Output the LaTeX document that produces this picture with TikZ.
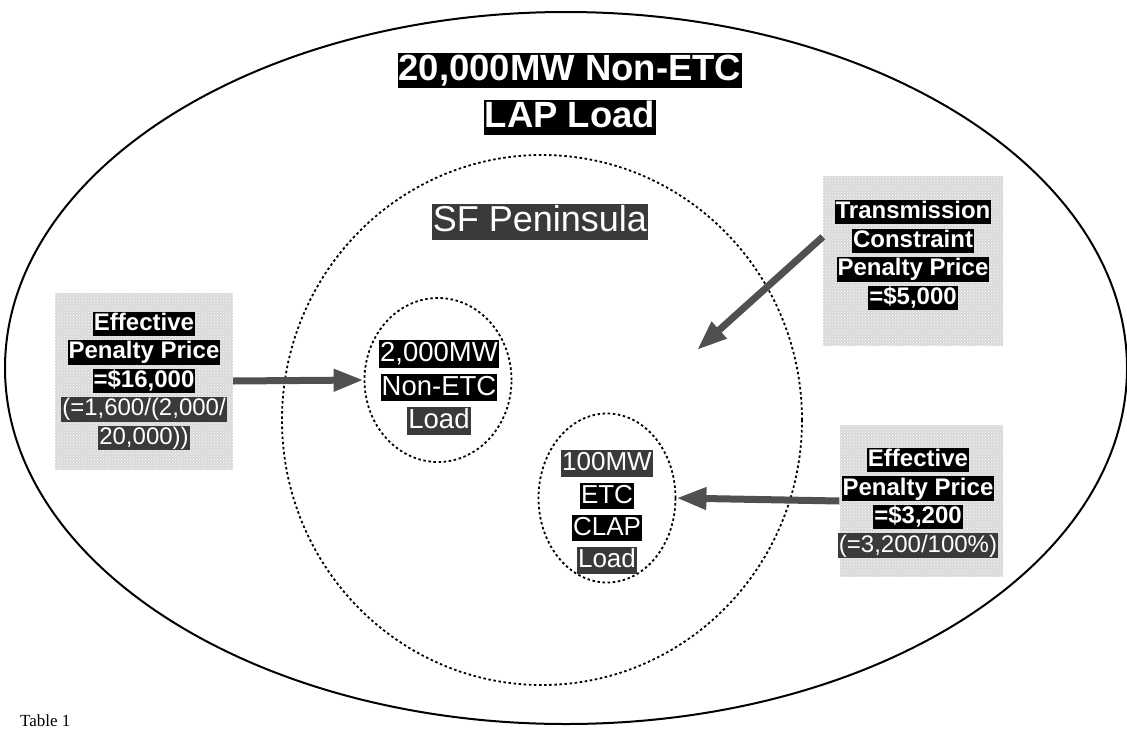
\documentclass[tikz,border=0pt]{standalone}
\usepackage{fontspec}
\setmainfont{Liberation Sans}
\newfontfamily\capserif{Liberation Serif}
\usetikzlibrary{arrows.meta,patterns,shapes.geometric}
\definecolor{hlgray}{HTML}{3A3A3A}
\definecolor{arrgray}{HTML}{505050}
\definecolor{boxgray}{HTML}{D8D8D8}
\newcommand{\hlb}[1]{{\setlength{\fboxsep}{1pt}\colorbox{black}{\textcolor{white}{\rule[-0.19em]{0pt}{0.93em}#1}}}}
\newcommand{\hlg}[1]{{\setlength{\fboxsep}{1pt}\colorbox{hlgray}{\textcolor{white}{\rule[-0.19em]{0pt}{0.93em}#1}}}}
\tikzset{
  pricebox/.style={draw=none, fill=boxgray, inner sep=0pt},
  stipple/.style={draw=none, pattern=crosshatch dots, pattern color=white, inner sep=0pt},
  dotring/.style={draw, ellipse, line width=1.8pt, dash pattern=on 2.5pt off 2.6pt, inner sep=0pt},
  fatarrow/.style={draw=arrgray, line width=7pt, -{Triangle[length=30pt,width=21pt]}},
  boxtext/.style={align=center, inner sep=0pt, font=\fontsize{24}{28.5}\selectfont},
  ringtext/.style={align=center, inner sep=0pt}
}
\begin{document}
\begin{tikzpicture}[x=1pt,y=-1pt]
\useasboundingbox (0,0) rectangle (1127,731);
% outer ellipse
\node[draw, ellipse, line width=2pt, inner sep=0pt, minimum width=1122pt, minimum height=712pt] (outer) at (566,368) {};
% SF peninsula
\node[dotring, minimum width=520pt, minimum height=530pt] (sf) at (542,420) {};
\node[ringtext, font=\fontsize{36}{40}\selectfont] (sflabel) at (540,222) {\hlg{SF Peninsula}};
% title
\node[ringtext, font=\fontsize{36.5}{47}\selectfont\bfseries] (title) at (570,94) {\hlb{20,000MW Non-ETC}\\\hlb{LAP Load}};
% inner rings
\node[dotring, minimum width=147pt, minimum height=164pt] (e1) at (438,380) {};
\node[ringtext, font=\fontsize{27.5}{33.5}\selectfont] (e1text) at (439,387.5) {\hlb{2,000MW}\\\hlb{Non-ETC}\\\hlg{Load}};
\node[dotring, minimum width=137pt, minimum height=169pt] (e2) at (607,498) {};
\node[ringtext, font=\fontsize{26}{32.3}\selectfont] (e2text) at (607,512) {\hlg{100MW}\\\hlb{ETC}\\\hlb{CLAP}\\\hlg{Load}};
% price boxes
\node[pricebox, minimum width=178pt, minimum height=177pt] (lbox) at (144,381) {};
\node[stipple, minimum width=178pt, minimum height=177pt] (lboxs) at (144,381) {};
\node[boxtext] (ltext) at (144,381) {\bfseries\hlb{Effective}\\\bfseries\hlb{Penalty Price}\\\bfseries\hlb{=\$16,000}\\\hlg{(=1,600/(2,000/}\\\hlg{20,000))}};
\node[pricebox, minimum width=180pt, minimum height=170pt] (tbox) at (913,261) {};
\node[stipple, minimum width=180pt, minimum height=170pt] (tboxs) at (913,261) {};
\node[boxtext] (ttext) at (913,255) {\bfseries\hlb{Transmission}\\\bfseries\hlb{Constraint}\\\bfseries\hlb{Penalty Price}\\\bfseries\hlb{=\$5,000}};
\node[pricebox, minimum width=163pt, minimum height=152pt] (rbox) at (921,501) {};
\node[stipple, minimum width=163pt, minimum height=152pt] (rboxs) at (921,501) {};
\node[boxtext] (rtext) at (918,503) {\bfseries\hlb{Effective}\\\bfseries\hlb{Penalty Price}\\\bfseries\hlb{=\$3,200}\\\hlg{(=3,200/100\%)}};
% arrows
\coordinate (ttip) at (697,350);
\draw[fatarrow] (lbox.east) -- (e1.west);
\draw[fatarrow] (tbox.165) -- (ttip);
\draw[fatarrow] (rbox.west) -- (e2.east);
% caption (at the lower edge)
\node[anchor=base west, inner sep=0pt, font=\capserif\fontsize{17}{20}\selectfont] (cap) at (20,726) {Table 1};
\end{tikzpicture}
\end{document}
